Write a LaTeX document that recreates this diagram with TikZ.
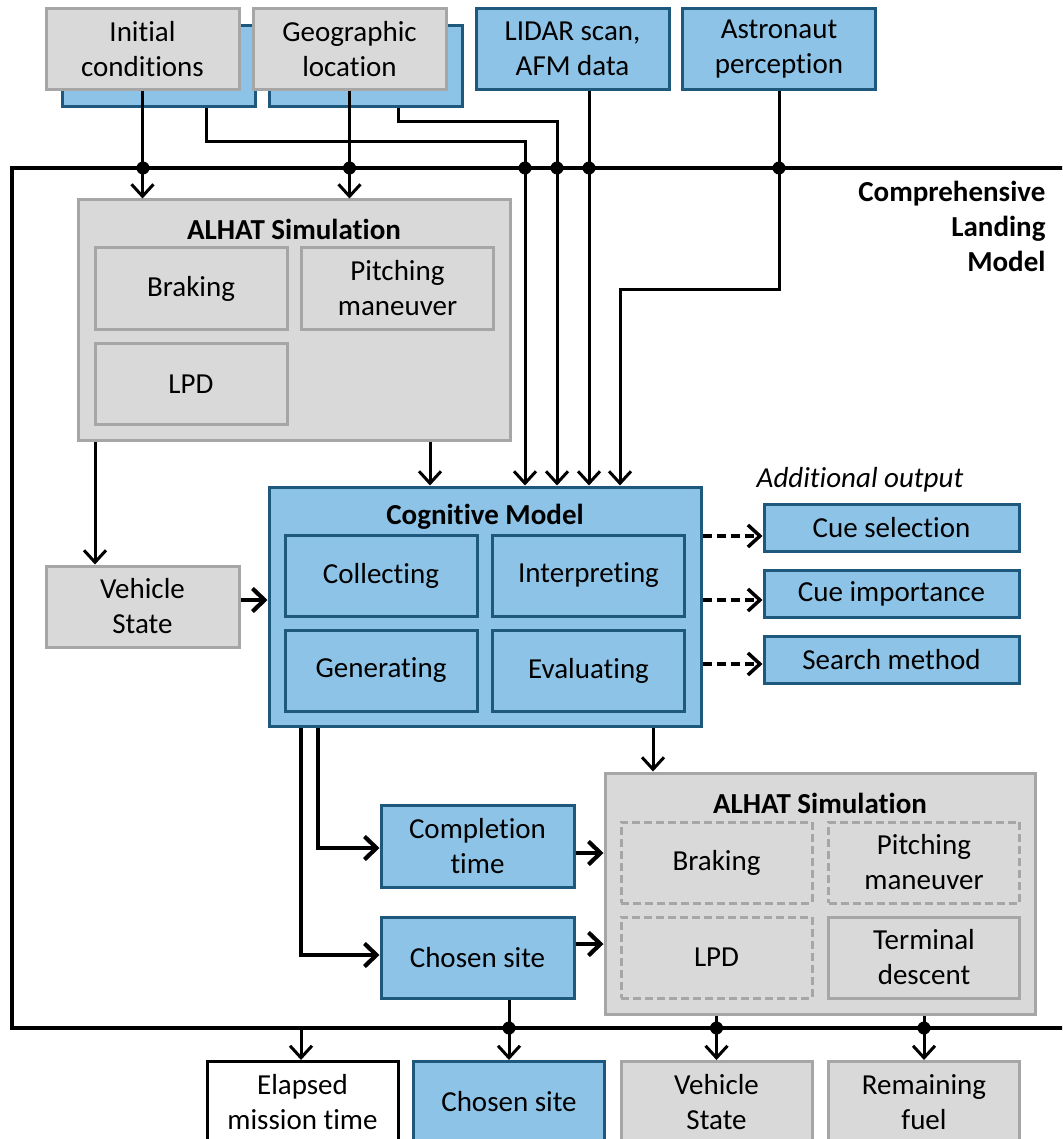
\documentclass[tikz,border=0pt]{standalone}
\usepackage{fontspec}
\setmainfont{Carlito}[Ligatures=NoCommon]
\usetikzlibrary{arrows.meta,positioning}
\definecolor{bluefill}{RGB}{141,195,230}
\definecolor{blueline}{RGB}{31,88,125}
\definecolor{grayfill}{RGB}{217,217,217}
\definecolor{grayline}{RGB}{166,166,166}
\newcommand\boxfont{\fontsize{29}{35}\selectfont}

\begin{document}
\begin{tikzpicture}[x=1pt, y=-1pt,
  every node/.style={font=\boxfont},
  box/.style={align=center, inner sep=0pt, minimum width=193pt, minimum height=81pt, line width=3pt},
  graybox/.style={box, draw=grayline, fill=grayfill},
  bluebox/.style={box, draw=blueline, fill=bluefill},
  dashbox/.style={box, draw=grayline, dash pattern=on 8pt off 4pt},
  outbox/.style={bluebox, minimum width=255pt, minimum height=47pt},
  panel/.style={line width=3pt, inner sep=0pt, minimum width=432pt, minimum height=240pt},
  title/.style={font=\boxfont\bfseries},
  arrow/.style={-{Straight Barb[length=12pt,width=22pt]}, line width=3pt},
  fatarrow/.style={-{Straight Barb[length=12pt,width=23pt]}, line width=4.2pt},
  dasharrow/.style={arrow, line width=3.5pt, dash pattern=on 9pt off 5pt},
  dot/.style={circle, fill, inner sep=0pt, minimum size=13pt},
  frame/.style={line width=3.2pt}
]
\useasboundingbox (0,0) rectangle (1062,1139);
\clip (0,0) rectangle (1062,1139);

% inputs
\node[bluebox] (icb) at (158.5,66) {};
\node[graybox] (ic) at (142.5,49) {Initial\\conditions};
\node[bluebox] (glb) at (365.5,66) {};
\node[graybox] (gl) at (349.5,49) {Geographic\\location};
\node[bluebox] (lidar) at (572.5,49) {LIDAR scan,\\AFM data};
\node[bluebox] (astro) at (779,49) {Astronaut\\perception};

% model frame
\draw[frame] (1070,168) -- (12,168) -- (12,1028) -- (1070,1028);
\node[title, anchor=north east, align=right] (clm) at (1049,178) {Comprehensive\\Landing\\Model};

% first simulation
\node[panel, draw=grayline, fill=grayfill] (alhat) at (294,320) {};
\node[title] (alhatt) at (294,229) {ALHAT Simulation};
\node[graybox, minimum width=192pt] (brake) at (191,288.5) {Braking};
\node[graybox, minimum width=192pt] (pitch) at (397.5,288.5) {Pitching\\maneuver};
\node[graybox, minimum width=192pt] (lpd) at (191,384) {LPD};

\node[graybox] (vs) at (142.5,606.5) {Vehicle\\State};

% cognitive model
\node[panel, draw=blueline, fill=bluefill, minimum height=239pt] (cog) at (485,606.5) {};
\node[title] (cogt) at (485,517) {Cognitive Model};
\node[bluebox, minimum width=192pt] (coll) at (381,575.5) {Collecting};
\node[bluebox, minimum width=192pt] (interp) at (588.5,575.5) {Interpreting};
\node[bluebox, minimum width=192pt] (gen) at (381,670.5) {Generating};
\node[bluebox, minimum width=192pt] (eval) at (588.5,670.5) {Evaluating};

% additional output
\node[font=\boxfont\itshape] (addl) at (860,480) {Additional output};
\node[outbox] (cue1) at (891.5,527.5) {Cue selection};
\node[outbox, below=16pt of cue1] (cue2) {Cue importance};
\node[outbox, below=16pt of cue2] (cue3) {Search method};

\node[bluebox, minimum height=82pt] (ct) at (477.5,846) {Completion\\time};
\node[bluebox] (cs) at (477.5,957.5) {Chosen site};

% second simulation
\node[panel, draw=grayline, fill=grayfill, minimum width=430pt, minimum height=241pt] (alhatb) at (820,893.5) {};
\node[title] (alhatbt) at (820,803) {ALHAT Simulation};
\node[dashbox, minimum width=191pt] (brakeb) at (716.5,862.5) {Braking};
\node[dashbox, minimum width=191pt] (pitchb) at (924,862.5) {Pitching\\maneuver};
\node[dashbox, minimum width=191pt] (lpdb) at (716.5,957.5) {LPD};
\node[graybox, minimum width=191pt] (term) at (924,957.5) {Terminal\\descent};

% outputs
\node[box, draw=black, fill=white, minimum width=191pt] (emt) at (302.5,1102) {Elapsed\\mission time};
\node[bluebox, minimum width=191pt] (csout) at (509,1102) {Chosen site};
\node[graybox, minimum width=191pt] (vsout) at (716.5,1102) {Vehicle\\State};
\node[graybox, minimum width=191pt] (rf) at (924,1102) {Remaining\\fuel};

% connectors
\draw[arrow] (ic) -- (ic |- alhat.north);
\draw[arrow] (gl) -- (gl |- alhat.north);
\draw[arrow] (icb.south -| 206,0) |- (525,141.7) -- (cog.north -| 525,0);
\draw[arrow] (glb.south -| 398,0) |- (557,121.7) -- (cog.north -| 557,0);
\draw[arrow] (lidar.south -| 589,0) -- (cog.north -| 589,0);
\draw[arrow] (astro) -- (779,290) -| (cog.north -| 620,0);
\foreach \x in {143,349.5,525,557,589,779}
  \node[dot] at (\x,168) {};

\draw[arrow] (alhat.south -| 95,0) -- (vs.north -| 95,0);
\draw[arrow] (alhat.south -| 430,0) -- (cog.north -| 430,0);
\draw[fatarrow] (vs.east |- 0,600) -- (cog.west |- 0,600);

\draw[dasharrow] (cog.east |- 0,536) -- (cue1.west |- 0,536);
\draw[dasharrow] (cog.east |- 0,600) -- (cue2.west |- 0,600);
\draw[dasharrow] (cog.east |- 0,664) -- (cue3.west |- 0,664);

\draw[arrow] (cog.south -| 653,0) -- (alhatb.north -| 653,0);
\draw[fatarrow] (cog.south -| 318,0) |- (ct.west |- 0,848);
\draw[fatarrow] (cog.south -| 301,0) |- (cs.west |- 0,955);
\draw[fatarrow] (ct.east |- 0,853) -- (alhatb.west |- 0,853);
\draw[fatarrow] (cs.east |- 0,944) -- (alhatb.west |- 0,944);

\draw[arrow] (301,1028) -- (emt.north -| 301,0);
\draw[arrow] (cs.south -| csout) -- (csout.north);
\draw[arrow] (alhatb.south -| vsout) -- (vsout.north);
\draw[arrow] (alhatb.south -| rf) -- (rf.north);
\foreach \x in {509,716.5,924}
  \node[dot] at (\x,1028) {};
\end{tikzpicture}
\end{document}
